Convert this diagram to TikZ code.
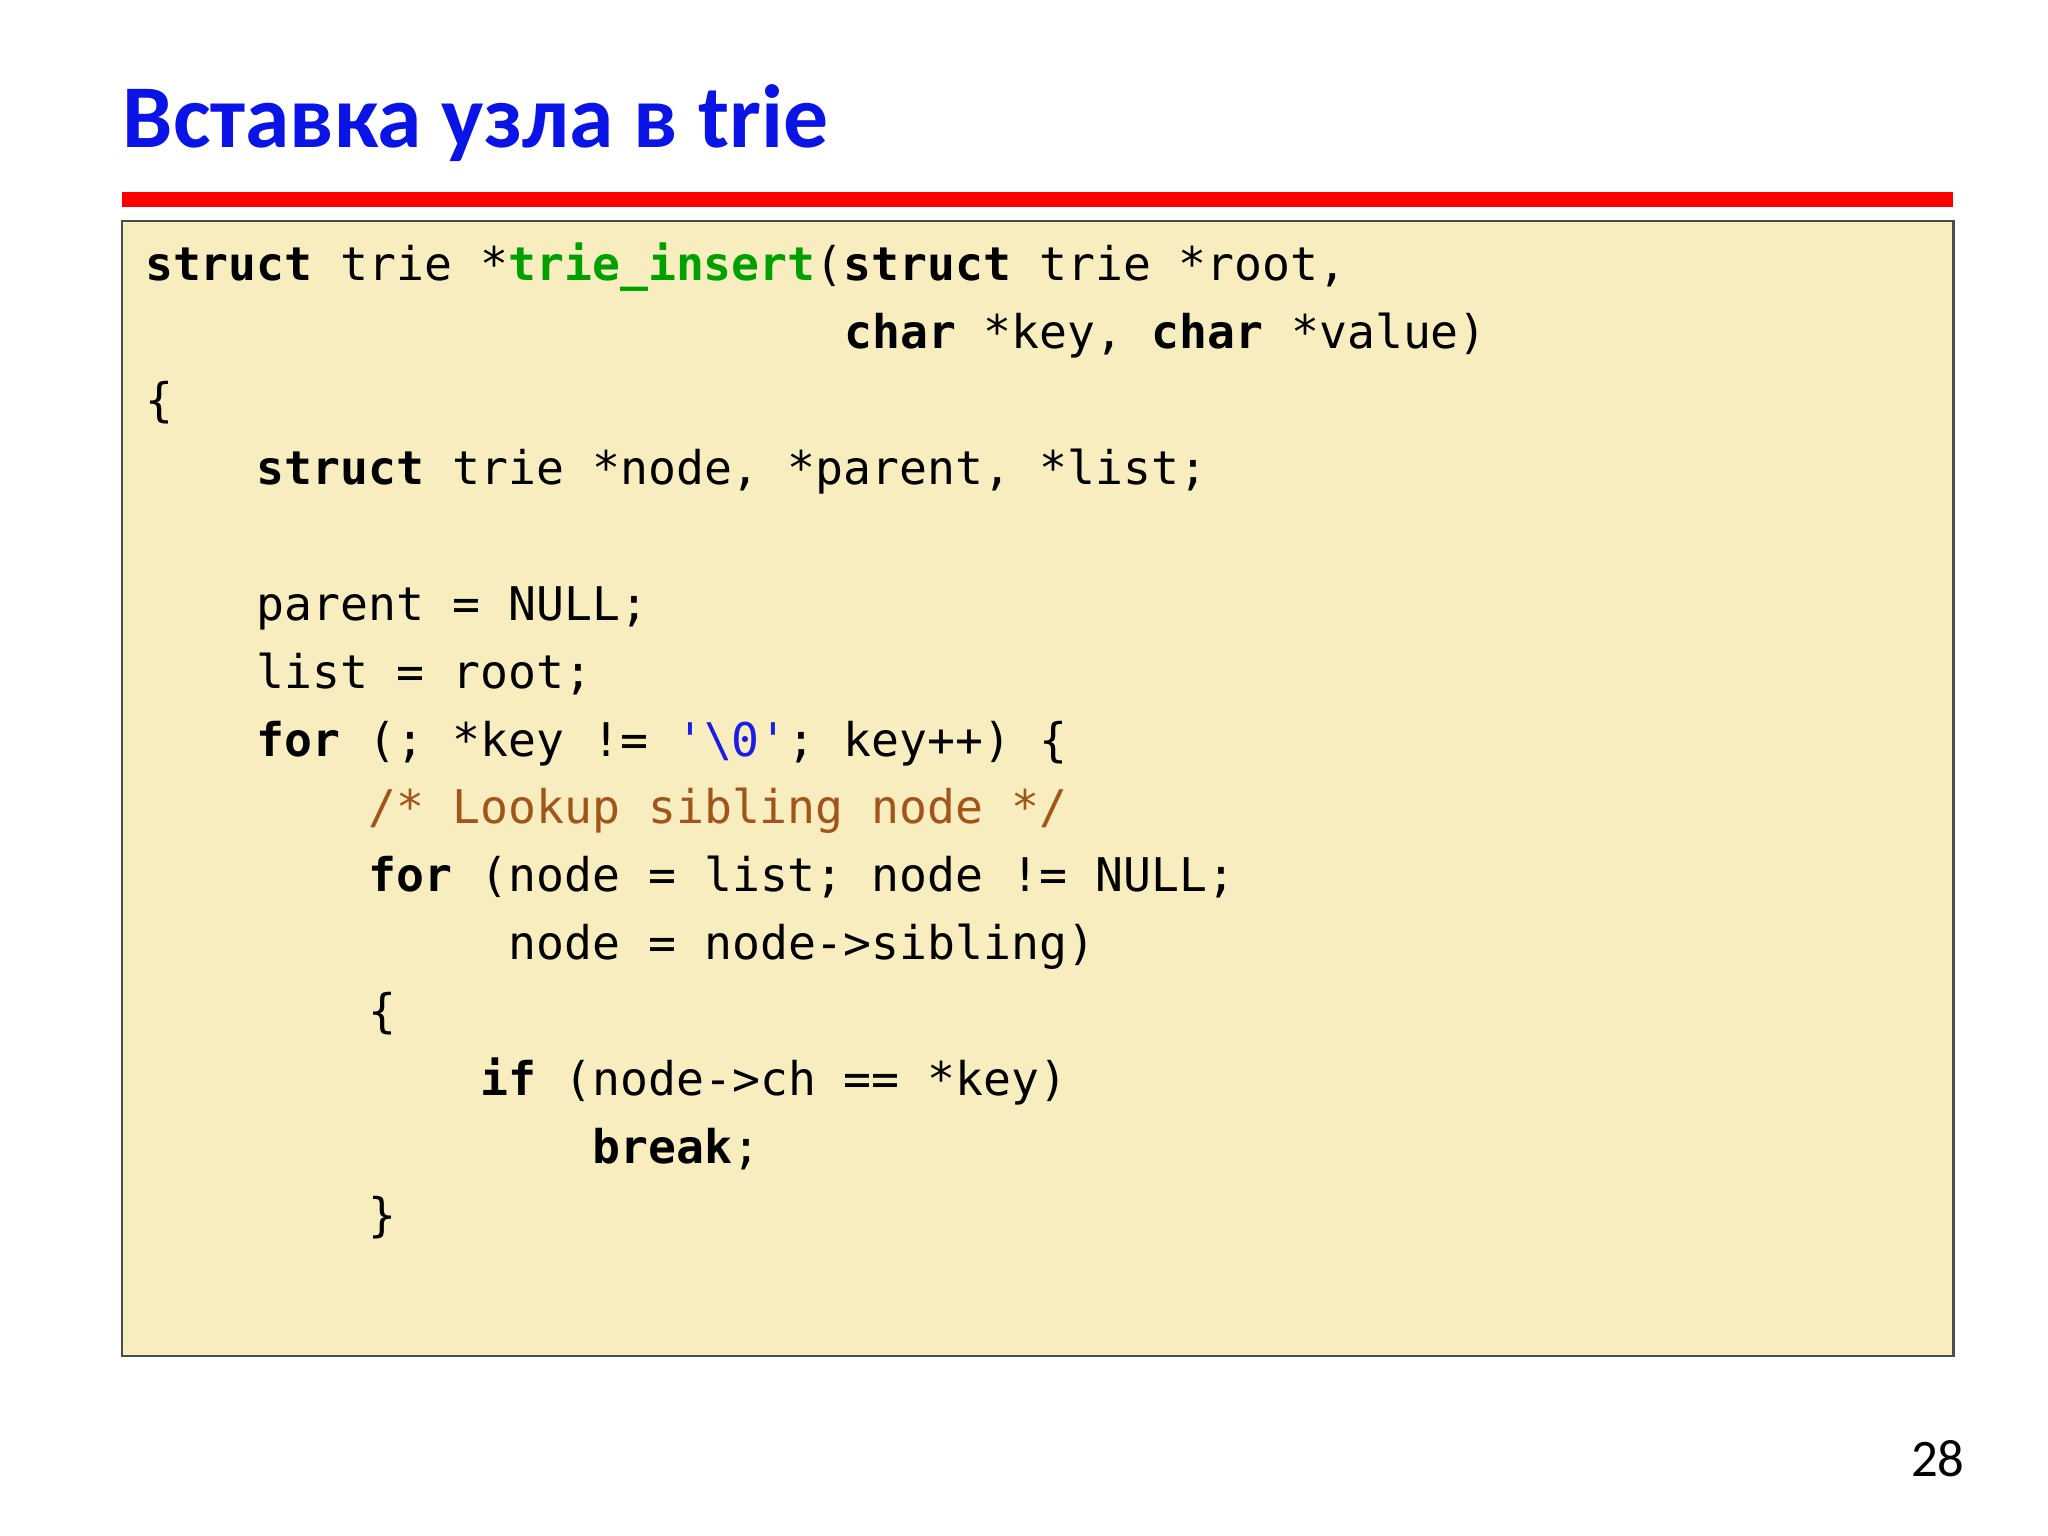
\documentclass[tikz,border=0pt]{standalone}
\usepackage{fontspec}
\setmainfont{Carlito}
\setmonofont{DejaVu Sans Mono}
\definecolor{titleblue}{HTML}{0A14E6}
\definecolor{boxfill}{HTML}{F8EDBF}
\definecolor{kwgreen}{HTML}{00A000}
\definecolor{strblue}{HTML}{1C1CE8}
\definecolor{cmbrown}{HTML}{A0561A}
\newcommand{\kw}[1]{\textbf{#1}}
\tikzset{codeline/.style={anchor=base west,inner sep=0pt,font=\ttfamily\fontsize{13.2}{16}\selectfont}}
\begin{document}
\begin{tikzpicture}[x=0.013128cm,y=-0.013128cm]
\useasboundingbox (0,0) rectangle (1560,1170);
\node[anchor=base west,inner sep=0pt,text=titleblue,font=\bfseries\fontsize{25.5}{30}\selectfont] (title) at (93,112) {Вставка узла в trie};
\draw[red,line width=4.5pt] (93,152) -- (1488,152);
\draw[fill=boxfill,draw=black!70,line width=0.6pt] (93,168) rectangle (1488,1033);
\def\cw{21.3}
\def\ls{51.7}
\foreach \col/\row/\txt [count=\i] in {
 0/0/{\kw{struct} trie *\textcolor{kwgreen}{\kw{trie\_insert}}(\kw{struct} trie *root,},
 25/1/{\kw{char} *key, \kw{char} *value)},
 0/2/{\{},
 4/3/{\kw{struct} trie *node, *parent, *list;},
 4/5/{parent = NULL;},
 4/6/{list = root;},
 4/7/{\kw{for} (; *key != \textcolor{strblue}{\textquotesingle\textbackslash 0\textquotesingle}; key++) \{},
 8/8/{\textcolor{cmbrown}{/* Lookup sibling node */}},
 8/9/{\kw{for} (node = list; node != NULL;},
 13/10/{node = node->sibling)},
 8/11/{\{},
 12/12/{\kw{if} (node->ch == *key)},
 16/13/{\kw{break};},
 8/14/{\}}}
 \node[codeline] (l\i) at ({110+\col*\cw},{214+\row*\ls}) {\txt};
\node[anchor=base east,inner sep=0pt,font=\fontsize{15}{18}\selectfont] (pg) at (1497,1125) {28};
\end{tikzpicture}
\end{document}
